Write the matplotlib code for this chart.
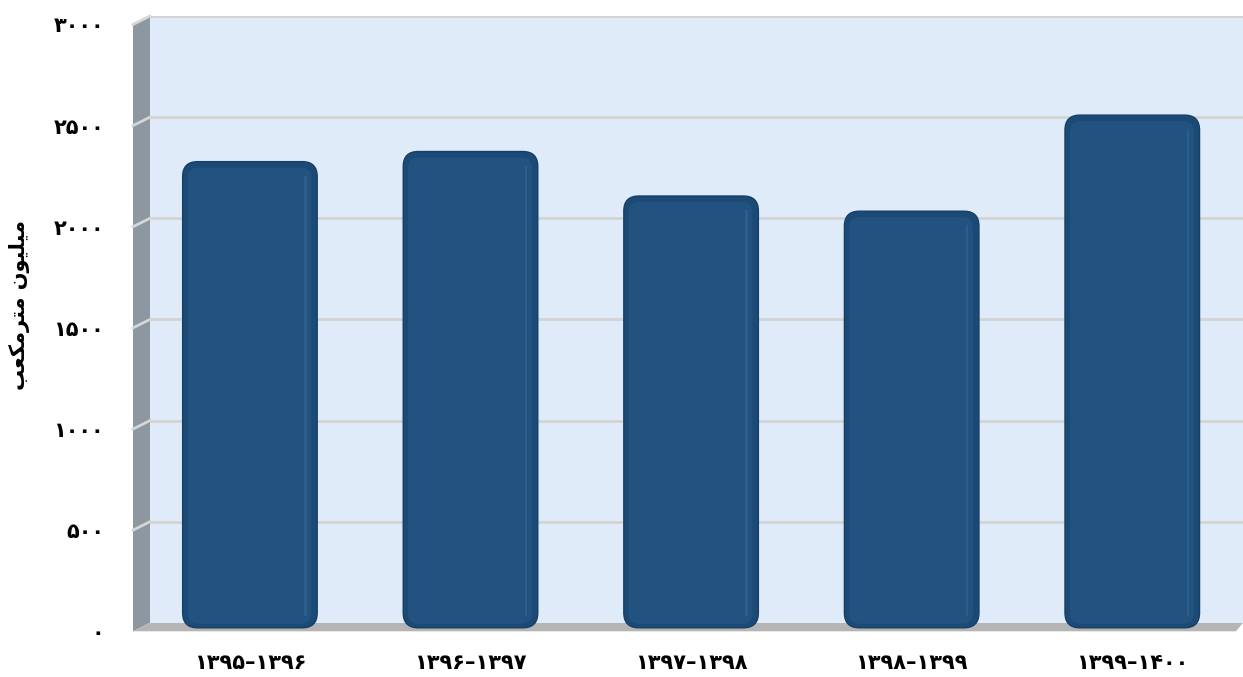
import matplotlib
matplotlib.use("Agg")
import matplotlib.pyplot as plt
from matplotlib.patches import Polygon, FancyBboxPatch
from matplotlib.transforms import ScaledTranslation

# ---- data ----
categories = ["۱۳۹۵–۱۳۹۶", "۱۳۹۶–۱۳۹۷", "۱۳۹۷–۱۳۹۸", "۱۳۹۸–۱۳۹۹", "۱۳۹۹–۱۴۰۰"]
values = [2280, 2330, 2110, 2035, 2510]
yticks = [0, 500, 1000, 1500, 2000, 2500, 3000]
ytick_labels = ["۰", "۵۰۰", "۱۰۰۰", "۱۵۰۰", "۲۰۰۰", "۲۵۰۰", "۳۰۰۰"]
# "میلیون مترمکعب" written with Arabic presentation forms in visual order
ylabel = "\uFE90\uFECC\uFB91\uFEE3\uFEAE\uFE98\uFEE3 \uFEE5\uFEEE\uFEF4\uFEE0\uFEF4\uFEE3"

W, H, DPI = 1243, 677, 100
fig = plt.figure(figsize=(W / DPI, H / DPI), dpi=DPI)
fig.patch.set_facecolor("white")

# back wall (axes) in pixels
L, R, T, B = 150, 1243, 16, 622.8
ax = fig.add_axes([L / W, (H - B) / H, (R - L) / W, (B - T) / H])
ax.set_facecolor("#DFEBF9")
ax.set_ylim(0, 3000)
ax.set_xlim(-0.453, 4.502)
for s in ax.spines.values():
    s.set_visible(False)

DX, DY = -17, -8.5  # depth offset in pixels (front edge)

def to_fig(px, py_img):
    return (px / W, (H - py_img) / H)

# gridlines on back wall
for t in yticks[1:]:
    ax.axhline(t, color="#D3D3D3", lw=2.0, zorder=1)

def data_y_to_img(yv):
    disp = ax.transData.transform((0, yv))
    return H - disp[1]

ytop = data_y_to_img(3000)
ybot = data_y_to_img(0)
side = Polygon([to_fig(L, ytop), to_fig(L, ybot), to_fig(L + DX, ybot - DY),
                to_fig(L + DX, ytop - DY)], closed=True, transform=fig.transFigure,
               facecolor="#8D97A2", edgecolor="none", zorder=0)
fig.add_artist(side)
for t in yticks[1:]:
    yi = data_y_to_img(t)
    fig.add_artist(plt.Line2D([L / W, (L + DX) / W], [(H - yi) / H, (H - (yi - DY)) / H],
                              transform=fig.transFigure, color="#D6D6D6", lw=2.0))
floor = Polygon([to_fig(L + DX, ybot - DY), to_fig(L, ybot), to_fig(1243, ybot),
                 to_fig(1236, ybot - DY)], closed=True, transform=fig.transFigure,
                facecolor="#B5B5B5", edgecolor="none", zorder=0)
fig.add_artist(floor)

# bars
x = list(range(len(categories)))
bw = 0.61
bars = ax.bar(x, values, width=bw, color="none", edgecolor="none", zorder=2)
px_x = 1.0 / (ax.transData.transform((1, 0))[0] - ax.transData.transform((0, 0))[0])
px_y = 1.0 / (ax.transData.transform((0, 1))[1] - ax.transData.transform((0, 0))[1])
aspect = px_y / px_x
sink = 5 * px_y  # bars stand slightly in front of back wall
for rect in bars:
    x0, w, h = rect.get_x(), rect.get_width(), rect.get_height()
    body = FancyBboxPatch((x0, -sink), w, h + sink,
                          boxstyle=f"round,pad=0,rounding_size={15 * px_x}",
                          mutation_aspect=aspect, facecolor="#1C4A76",
                          edgecolor="#173F66", lw=1.0, zorder=3, clip_on=False)
    ax.add_patch(body)
    inner = FancyBboxPatch((x0 + 5 * px_x, -sink + 4 * px_y), w - 11 * px_x, h + sink - 10 * px_y,
                           boxstyle=f"round,pad=0,rounding_size={10 * px_x}",
                           mutation_aspect=aspect, facecolor="#22527F",
                           edgecolor="none", zorder=4, clip_on=False)
    ax.add_patch(inner)
    stripe_x = x0 + w - 13 * px_x
    ax.add_patch(FancyBboxPatch((stripe_x, -sink + 12 * px_y), 2.5 * px_x, h + sink - 26 * px_y,
                                boxstyle="square,pad=0", facecolor="#3B6D99",
                                edgecolor="none", alpha=0.45, zorder=5, clip_on=False))

# ticks
ax.set_yticks(yticks, ytick_labels)
ax.set_xticks(x, categories)
ax.tick_params(axis="y", length=0, pad=33)
ax.tick_params(axis="x", length=0, pad=22)
off = ScaledTranslation(0, DY / DPI, fig.dpi_scale_trans)
for lab in ax.get_yticklabels():
    lab.set_fontsize(15)
    lab.set_fontweight("bold")
    lab.set_transform(lab.get_transform() + off)
for lab in ax.get_xticklabels():
    lab.set_fontsize(15)
    lab.set_fontweight("bold")

fig.text(20 / W, (H - 305) / H, ylabel, rotation=90, ha="center", va="center",
         fontsize=15, fontweight="bold", family="DejaVu Sans")

fig.savefig("out.png", dpi=DPI)
